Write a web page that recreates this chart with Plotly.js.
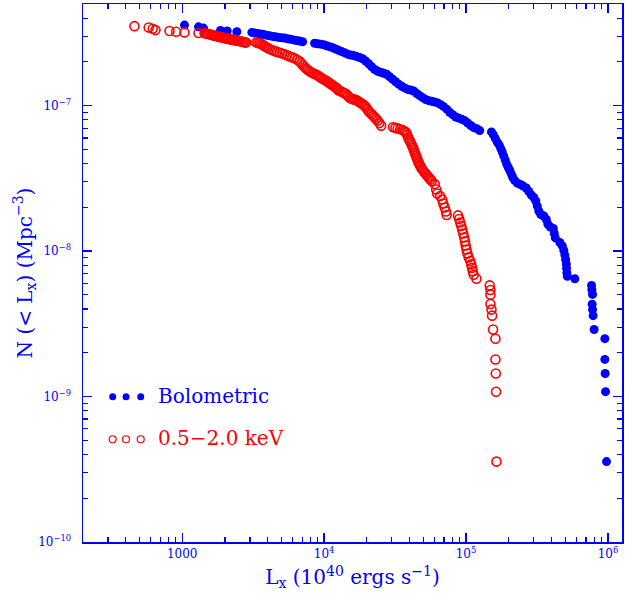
<!DOCTYPE html>
<html>
<head>
<meta charset="utf-8">
<script src="https://cdn.plot.ly/plotly-3.0.1.min.js"></script>
<style>html,body{margin:0;padding:0;background:#fff;}</style>
</head>
<body>
<div id="chart" style="width:633px;height:601px;"></div>
<script>
// Bolometric luminosity function (filled blue circles)
var bolLx = [1038,1303,1413,1862,2076,2427,3096,
  3235,3396,3566,3744,3931,4128,4335,4550,4777,5015,5266,5528,5804,6094,6399,6717,7054,
  8570,9000,9448,9920,10410,10940,11480,12050,12660,13290,13950,14640,15380,16150,16960,17800,18680,19620,20600,21630,
  22710,23840,25030,26280,27600,28970,30420,31940,33530,35210,36960,38810,40740,42780,44910,47160,49510,51980,54580,57300,
  60150,63150,66310,69610,73090,76740,80570,84600,88810,93260,97900,102800,107900,113300,119000,124900,
  151100,155600,160700,166000,171500,175700,180000,184500,189000,193600,198400,203300,208400,213500,220500,229700,241200,253200,265800,276800,
  288300,300300,310200,317800,325600,336300,353200,367800,376900,392600,412100,418800,425700,458000,476900,488700,496800,503200,509000,510700,
  513200,517400,584300,
  766200,770000,778600,773600,778600,786200,799000,951000,951000,955600,961800,977500];
var bolN = [3.58e-7,3.485e-7,3.415e-7,3.29e-7,3.26e-7,3.22e-7,3.19e-7,
  3.164e-7,3.134e-7,3.105e-7,3.080e-7,3.051e-7,3.022e-7,2.994e-7,2.975e-7,2.947e-7,2.928e-7,2.915e-7,2.887e-7,2.860e-7,2.833e-7,2.807e-7,2.780e-7,2.750e-7,
  2.685e-7,2.664e-7,2.647e-7,2.626e-7,2.581e-7,2.541e-7,2.505e-7,2.451e-7,2.401e-7,2.355e-7,2.311e-7,2.261e-7,2.232e-7,2.214e-7,2.176e-7,2.145e-7,2.101e-7,2.029e-7,1.942e-7,1.852e-7,
  1.772e-7,1.725e-7,1.698e-7,1.672e-7,1.645e-7,1.581e-7,1.520e-7,1.461e-7,1.405e-7,1.361e-7,1.325e-7,1.294e-7,1.282e-7,1.261e-7,1.213e-7,1.171e-7,1.135e-7,1.103e-7,1.082e-7,1.072e-7,
  1.060e-7,1.045e-7,1.016e-7,9.84e-8,9.46e-8,9.00e-8,8.67e-8,8.36e-8,8.21e-8,8.07e-8,7.89e-8,7.60e-8,7.31e-8,7.06e-8,6.95e-8,6.74e-8,
  6.60e-8,6.32e-8,5.955e-8,5.62e-8,5.355e-8,5.07e-8,4.80e-8,4.50e-8,4.225e-8,3.95e-8,3.755e-8,3.58e-8,3.39e-8,3.205e-8,3.055e-8,2.94e-8,2.87e-8,2.80e-8,2.715e-8,2.57e-8,
  2.43e-8,2.335e-8,2.21e-8,2.04e-8,1.888e-8,1.786e-8,1.744e-8,1.650e-8,1.537e-8,1.466e-8,1.432e-8,1.323e-8,1.232e-8,1.147e-8,1.086e-8,1.011e-8,9.42e-9,8.77e-9,8.17e-9,7.61e-9,
  7.09e-9,6.71e-9,6.46e-9,
  5.81e-9,5.42e-9,5.04e-9,4.31e-9,3.96e-9,3.60e-9,2.89e-9,2.50e-9,1.80e-9,1.44e-9,1.08e-9,3.57e-10];

// 0.5-2.0 keV luminosity function (open red circles)
var softLx = [461,581,620,648,814,907,1038,1303,
  1437,1508,1584,1662,1746,1832,1924,2020,2121,2227,2338,2455,2577,2706,2818,
  3325,3508,3684,3868,4128,4477,4857,5266,5711,6194,6717,7087,7490,7900,8337,8853,9296,9759,10363,10940,
  11480,12190,12660,13510,14340,15130,15890,16870,17800,18680,19620,20600,21630,22710,23840,25230,
  30560,32980,35780,37870,39120,40410,41740,42780,43840,44910,46010,47160,48710,50730,52820,55030,57300,60150,61630,62640,
  65770,67950,69060,70760,72270,73090,
  87830,89540,91000,92500,94000,95550,97120,98380,99500,100800,102300,104500,107100,108800,110300,111500,113300,118400,
  146900,148600,148600,148600,151100,152600,155000,161200,161200,162000,162800,163900,
  1472,1546,1623,1704,1789,1878,1972,2070,2174,2282,2396,2516,2641,2762,
  3415,3595,3775,3995,4300,4663,5060,5485,5948,6450,6900,7286,7692,8116,8591,9072,9525,10057,10648,11207,
  11826,12423,13080,13920,14730,15508,16370,17330,18235,19145,20105,21105,22170,23270,24525,
  31770,34350,36810,38490,39760,41070,42260,43310,44370,45450,46580,47930,49710,51770,53910,56160];
var softN = [3.52e-7,3.45e-7,3.377e-7,3.307e-7,3.26e-7,3.22e-7,3.19e-7,3.16e-7,
  3.15e-7,3.12e-7,3.080e-7,3.041e-7,3.003e-7,2.970e-7,2.942e-7,2.905e-7,2.873e-7,2.846e-7,2.819e-7,2.802e-7,2.771e-7,2.736e-7,2.714e-7,
  2.72e-7,2.685e-7,2.622e-7,2.541e-7,2.45e-7,2.373e-7,2.311e-7,2.257e-7,2.18e-7,2.118e-7,2.020e-7,1.897e-7,1.794e-7,1.725e-7,1.672e-7,1.632e-7,1.581e-7,1.532e-7,1.485e-7,1.427e-7,
  1.382e-7,1.329e-7,1.27e-7,1.238e-7,1.20e-7,1.135e-7,1.108e-7,1.091e-7,1.057e-7,1.024e-7,9.84e-8,9.17e-8,8.74e-8,8.34e-8,7.89e-8,7.29e-8,
  7.10e-8,6.975e-8,6.79e-8,6.53e-8,6.03e-8,5.66e-8,5.31e-8,4.99e-8,4.68e-8,4.395e-8,4.125e-8,3.905e-8,3.695e-8,3.497e-8,3.334e-8,3.18e-8,3.032e-8,2.89e-8,2.65e-8,2.49e-8,
  2.393e-8,2.263e-8,2.126e-8,1.995e-8,1.873e-8,1.772e-8,
  1.76e-8,1.663e-8,1.574e-8,1.489e-8,1.409e-8,1.323e-8,1.242e-8,1.166e-8,1.094e-8,1.027e-8,9.64e-9,9.05e-9,8.56e-9,8.10e-9,7.67e-9,7.26e-9,6.87e-9,6.46e-9,
  5.81e-9,5.40e-9,5.02e-9,4.33e-9,3.96e-9,3.60e-9,2.89e-9,2.50e-9,1.80e-9,1.44e-9,1.08e-9,3.57e-10,
  3.135e-7,3.10e-7,3.06e-7,3.022e-7,2.986e-7,2.956e-7,2.923e-7,2.889e-7,2.86e-7,2.832e-7,2.81e-7,2.786e-7,2.753e-7,2.725e-7,
  2.70e-7,2.653e-7,2.58e-7,2.495e-7,2.41e-7,2.342e-7,2.284e-7,2.218e-7,2.149e-7,2.069e-7,1.958e-7,1.845e-7,1.76e-7,1.698e-7,1.652e-7,1.606e-7,1.556e-7,1.508e-7,1.456e-7,1.404e-7,
  1.355e-7,1.30e-7,1.254e-7,1.219e-7,1.167e-7,1.121e-7,1.10e-7,1.074e-7,1.04e-7,1.004e-7,9.50e-8,8.95e-8,8.54e-8,8.11e-8,7.59e-8,
  7.04e-8,6.88e-8,6.66e-8,6.28e-8,5.84e-8,5.48e-8,5.15e-8,4.83e-8,4.535e-8,4.26e-8,4.015e-8,3.80e-8,3.596e-8,3.415e-8,3.257e-8,3.105e-8];

var xTickVals = [1e3, 1e4, 1e5, 1e6];
var xTickText = ['1000', '10<sup>4</sup>', '10<sup>5</sup>', '10<sup>6</sup>'];
var yTickVals = [1e-10, 1e-9, 1e-8, 1e-7];
var yTickText = ['10<sup>\u221210</sup>', '10<sup>\u22129</sup>', '10<sup>\u22128</sup>', '10<sup>\u22127</sup>'];
var seriesNames = ['Bolometric', '0.5\u22122.0 keV'];

var BLUE = '#0000ff', RED = '#ff0000';
var FONT = 'DejaVu Serif, Liberation Serif, serif';

function minorVals(lo, hi) {
  var out = [];
  for (var e = lo; e <= hi; e++) {
    for (var m = 2; m <= 9; m++) out.push(m * Math.pow(10, e));
  }
  return out;
}

var traces = [
  {x: bolLx, y: bolN, type: 'scatter', mode: 'markers', name: seriesNames[0],
   marker: {symbol: 'circle', size: 9, color: BLUE, line: {width: 0}}},
  {x: softLx, y: softN, type: 'scatter', mode: 'markers', name: seriesNames[1],
   marker: {symbol: 'circle-open', size: 9, color: RED, line: {width: 1.6, color: RED}}}
];

function legendShapes(yp, filled, color) {
  var xs = [0.0551, 0.0798, 0.1071];
  return xs.map(function (xp) {
    return {type: 'circle', xref: 'paper', yref: 'paper', xsizemode: 'pixel', ysizemode: 'pixel',
      xanchor: xp, yanchor: yp, x0: -3.5, x1: 3.5, y0: -3.5, y1: 3.5,
      fillcolor: filled ? color : 'rgba(0,0,0,0)', line: {color: color, width: filled ? 0 : 1.2}};
  });
}

var layout = {
  width: 633, height: 601,
  margin: {l: 83, r: 11, t: 4, b: 59},
  paper_bgcolor: '#ffffff', plot_bgcolor: '#ffffff',
  showlegend: false,
  font: {family: FONT, color: BLUE},
  xaxis: {
    type: 'log', range: [2.301, 6.099],
    showline: true, linecolor: BLUE, linewidth: 1.5, mirror: 'ticks',
    ticks: 'inside', ticklen: 9, tickwidth: 1.3, tickcolor: BLUE,
    tickmode: 'array', tickvals: xTickVals, ticktext: xTickText,
    tickfont: {family: FONT, size: 12, color: BLUE},
    showgrid: false, zeroline: false,
    minor: {ticks: 'inside', ticklen: 5, tickwidth: 1.2, tickcolor: BLUE,
            tickmode: 'array', tickvals: minorVals(2, 5), showgrid: false},
    title: {text: 'L<sub>x</sub> (10<sup>40</sup> ergs s<sup>\u22121</sup>)',
            font: {family: FONT, size: 20, color: BLUE}, standoff: 10}
  },
  yaxis: {
    type: 'log', range: [-10, -6.301],
    showline: true, linecolor: BLUE, linewidth: 1.5, mirror: 'ticks',
    ticks: 'inside', ticklen: 9, tickwidth: 1.3, tickcolor: BLUE,
    tickmode: 'array', tickvals: yTickVals, ticktext: yTickText,
    tickfont: {family: FONT, size: 12, color: BLUE},
    ticklabelstandoff: 8,
    showgrid: false, zeroline: false,
    minor: {ticks: 'inside', ticklen: 5, tickwidth: 1.2, tickcolor: BLUE,
            tickmode: 'array', tickvals: minorVals(-10, -7), showgrid: false},
    title: {text: 'N (&lt; L<sub>x</sub>) (Mpc<sup>\u22123</sup>)',
            font: {family: FONT, size: 20, color: BLUE}, standoff: 0}
  },
  shapes: legendShapes(0.270, true, BLUE).concat(legendShapes(0.191, false, RED)),
  annotations: [
    {xref: 'paper', yref: 'paper', x: 0.1354, y: 0.272, xanchor: 'left', yanchor: 'middle',
     text: seriesNames[0], showarrow: false, font: {family: FONT, size: 20, color: BLUE}},
    {xref: 'paper', yref: 'paper', x: 0.1354, y: 0.193, xanchor: 'left', yanchor: 'middle',
     text: seriesNames[1], showarrow: false, font: {family: FONT, size: 20, color: RED}}
  ]
};

Plotly.newPlot('chart', traces, layout, {displayModeBar: false, staticPlot: true});
</script>
</body>
</html>
